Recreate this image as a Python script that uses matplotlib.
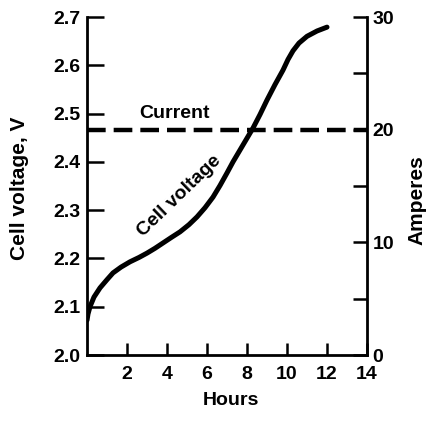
import matplotlib
matplotlib.use("Agg")
import matplotlib.pyplot as plt

plt.rcParams['font.family'] = ['Liberation Sans', 'DejaVu Sans']
plt.rcParams['font.weight'] = 'bold'

# Cell voltage during charge at constant current
hours = [0.0, 0.05, 0.15, 0.35, 0.65, 1.0, 1.3, 1.7, 2.15, 2.6, 3.0, 3.4, 3.8, 4.2,
         4.65, 5.1, 5.5, 5.9, 6.3, 6.65, 7.0, 7.3, 7.8, 8.3, 8.65, 9.0, 9.4, 9.8,
         10.05, 10.3, 10.6, 11.0, 11.5, 12.0]
voltage = [2.072, 2.085, 2.100, 2.120, 2.139, 2.156, 2.170, 2.182, 2.193, 2.202,
           2.211, 2.221, 2.232, 2.243, 2.255, 2.270, 2.286, 2.305, 2.327, 2.351,
           2.377, 2.400, 2.435, 2.470, 2.498, 2.528, 2.560, 2.590, 2.612, 2.630,
           2.646, 2.660, 2.671, 2.679]

current_hours = [0, 14]
current_amps = [20, 20]

x_ticks = [2, 4, 6, 8, 10, 12, 14]
v_ticks = [2.0, 2.1, 2.2, 2.3, 2.4, 2.5, 2.6, 2.7]
v_labels = ['2.0', '2.1', '2.2', '2.3', '2.4', '2.5', '2.6', '2.7']
a_ticks = [0, 10, 20, 30]
a_minor = [5, 15, 25]

fig = plt.figure(figsize=(4.28, 4.23), dpi=100)
ax = fig.add_axes([87/428, 1 - 355/423, 280/428, 338/423])
ax2 = ax.twinx()

ax.plot(hours, voltage, color='black', lw=3.6, solid_capstyle='round',
        solid_joinstyle='round', zorder=3)
ax2.plot(current_hours, current_amps, color='black', lw=3.2,
         dashes=(4.2, 1.8), dash_capstyle='butt', zorder=3)

ax.set_xlim(0, 14)
ax.set_ylim(2.0, 2.7)
ax2.set_ylim(0, 30)

ax.set_xticks(x_ticks)
ax.set_xticklabels([str(t) for t in x_ticks])
ax.set_yticks(v_ticks)
ax.set_yticklabels(v_labels)
ax2.set_yticks(a_ticks)
ax2.set_yticklabels([str(t) for t in a_ticks])
ax2.set_yticks(a_minor, minor=True)

for a in (ax, ax2):
    a.spines['top'].set_visible(False)
    for s in a.spines.values():
        s.set_linewidth(2.0)
ax2.spines['left'].set_visible(False)
ax2.spines['bottom'].set_visible(False)
ax.spines['right'].set_visible(False)

ax.tick_params(axis='x', direction='in', length=9, width=1.8, pad=8, labelsize=14)
ax.tick_params(axis='y', direction='in', length=12.5, width=1.8, pad=5, labelsize=14)
ax2.tick_params(axis='y', which='both', direction='in', length=10, width=1.8,
                pad=4, labelsize=14)

ax.text(4.4, 2.501, 'Current', ha='center', va='center', fontsize=14, fontweight='bold')
ax.text(4.6, 2.33, 'Cell voltage', ha='center', va='center', rotation=44,
        fontsize=14, fontweight='bold')

fig.text(20/428, 1 - 188/423, 'Cell voltage, V', rotation=90, ha='center', va='center',
         fontsize=15, fontweight='bold')
fig.text(417/428, 1 - 200/423, 'Amperes', rotation=90, ha='center', va='center',
         fontsize=15, fontweight='bold')
fig.text(231/428, 1 - 400/423, 'Hours', ha='center', va='center',
         fontsize=14, fontweight='bold')

fig.savefig('out.png', dpi=100)
